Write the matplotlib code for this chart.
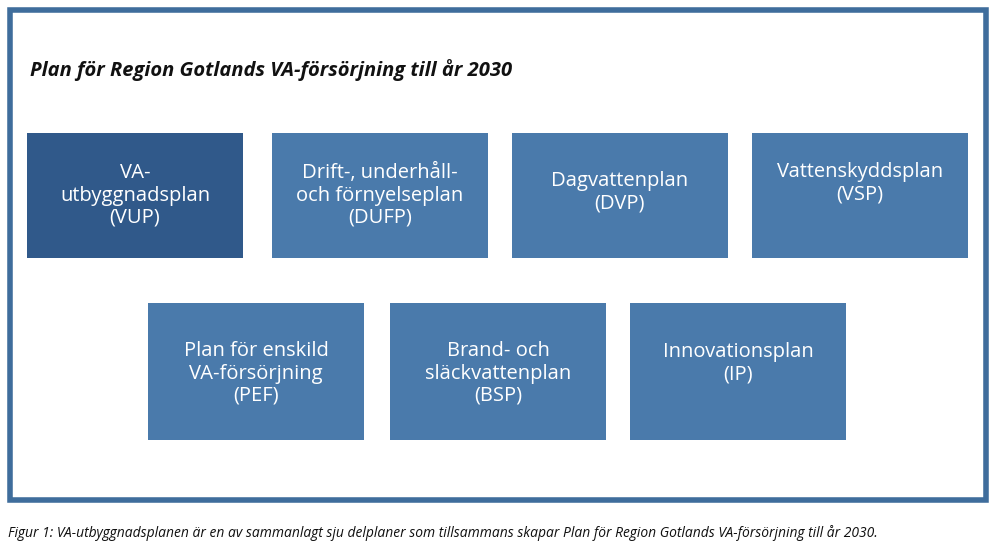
import matplotlib.pyplot as plt
from matplotlib.patches import Rectangle

title = "Plan för Region Gotlands VA-försörjning till år 2030"
caption = ("Figur 1: VA-utbyggnadsplanen är en av sammanlagt sju delplaner som tillsammans "
           "skapar Plan för Region Gotlands VA-försörjning till år 2030.")
labels = [
    "VA-\nutbyggnadsplan\n(VUP)",
    "Drift-, underhåll-\noch förnyelseplan\n(DUFP)",
    "Dagvattenplan\n(DVP)",
    "Vattenskyddsplan\n(VSP)",
    "Plan för enskild\nVA-försörjning\n(PEF)",
    "Brand- och\nsläckvattenplan\n(BSP)",
    "Innovationsplan\n(IP)",
]
highlight = [True, False, False, False, False, False, False]

# box layout (pixels): left x, top y
box_x = [27, 272, 512, 752, 148, 390, 630]
box_y = [133, 133, 133, 133, 303, 303, 303]
box_w = 216
box_h = [125, 125, 125, 125, 137, 137, 137]
text_dy = [-12, -12, -15, -24, -10, -10, -20]

fig = plt.figure(figsize=(9.98, 5.5), dpi=100)
ax = fig.add_axes([0, 0, 1, 1])
ax.set_xlim(0, 998)
ax.set_ylim(550, 0)
ax.axis("off")

ax.add_patch(Rectangle((10, 10), 976, 490, fill=False, edgecolor="#3f6d9c", linewidth=4))
ax.text(30, 70, title, fontsize=14.5, fontweight="bold", style="italic",
        family="Open Sans", va="center", color="#111111")

for i, lab in enumerate(labels):
    color = "#30598a" if highlight[i] else "#4a7aab"
    ax.add_patch(Rectangle((box_x[i], box_y[i]), box_w, box_h[i], facecolor=color, edgecolor="none"))
    ax.text(box_x[i] + box_w / 2, box_y[i] + box_h[i] / 2 + text_dy[i] + 12, lab,
            ha="center", va="center", color="white", fontsize=14.5,
            family="Open Sans", linespacing=1.15)

ax.text(8, 533, caption, fontsize=10, style="italic", family="Open Sans",
        va="center", color="#111111")

fig.savefig("out.png", dpi=100)
